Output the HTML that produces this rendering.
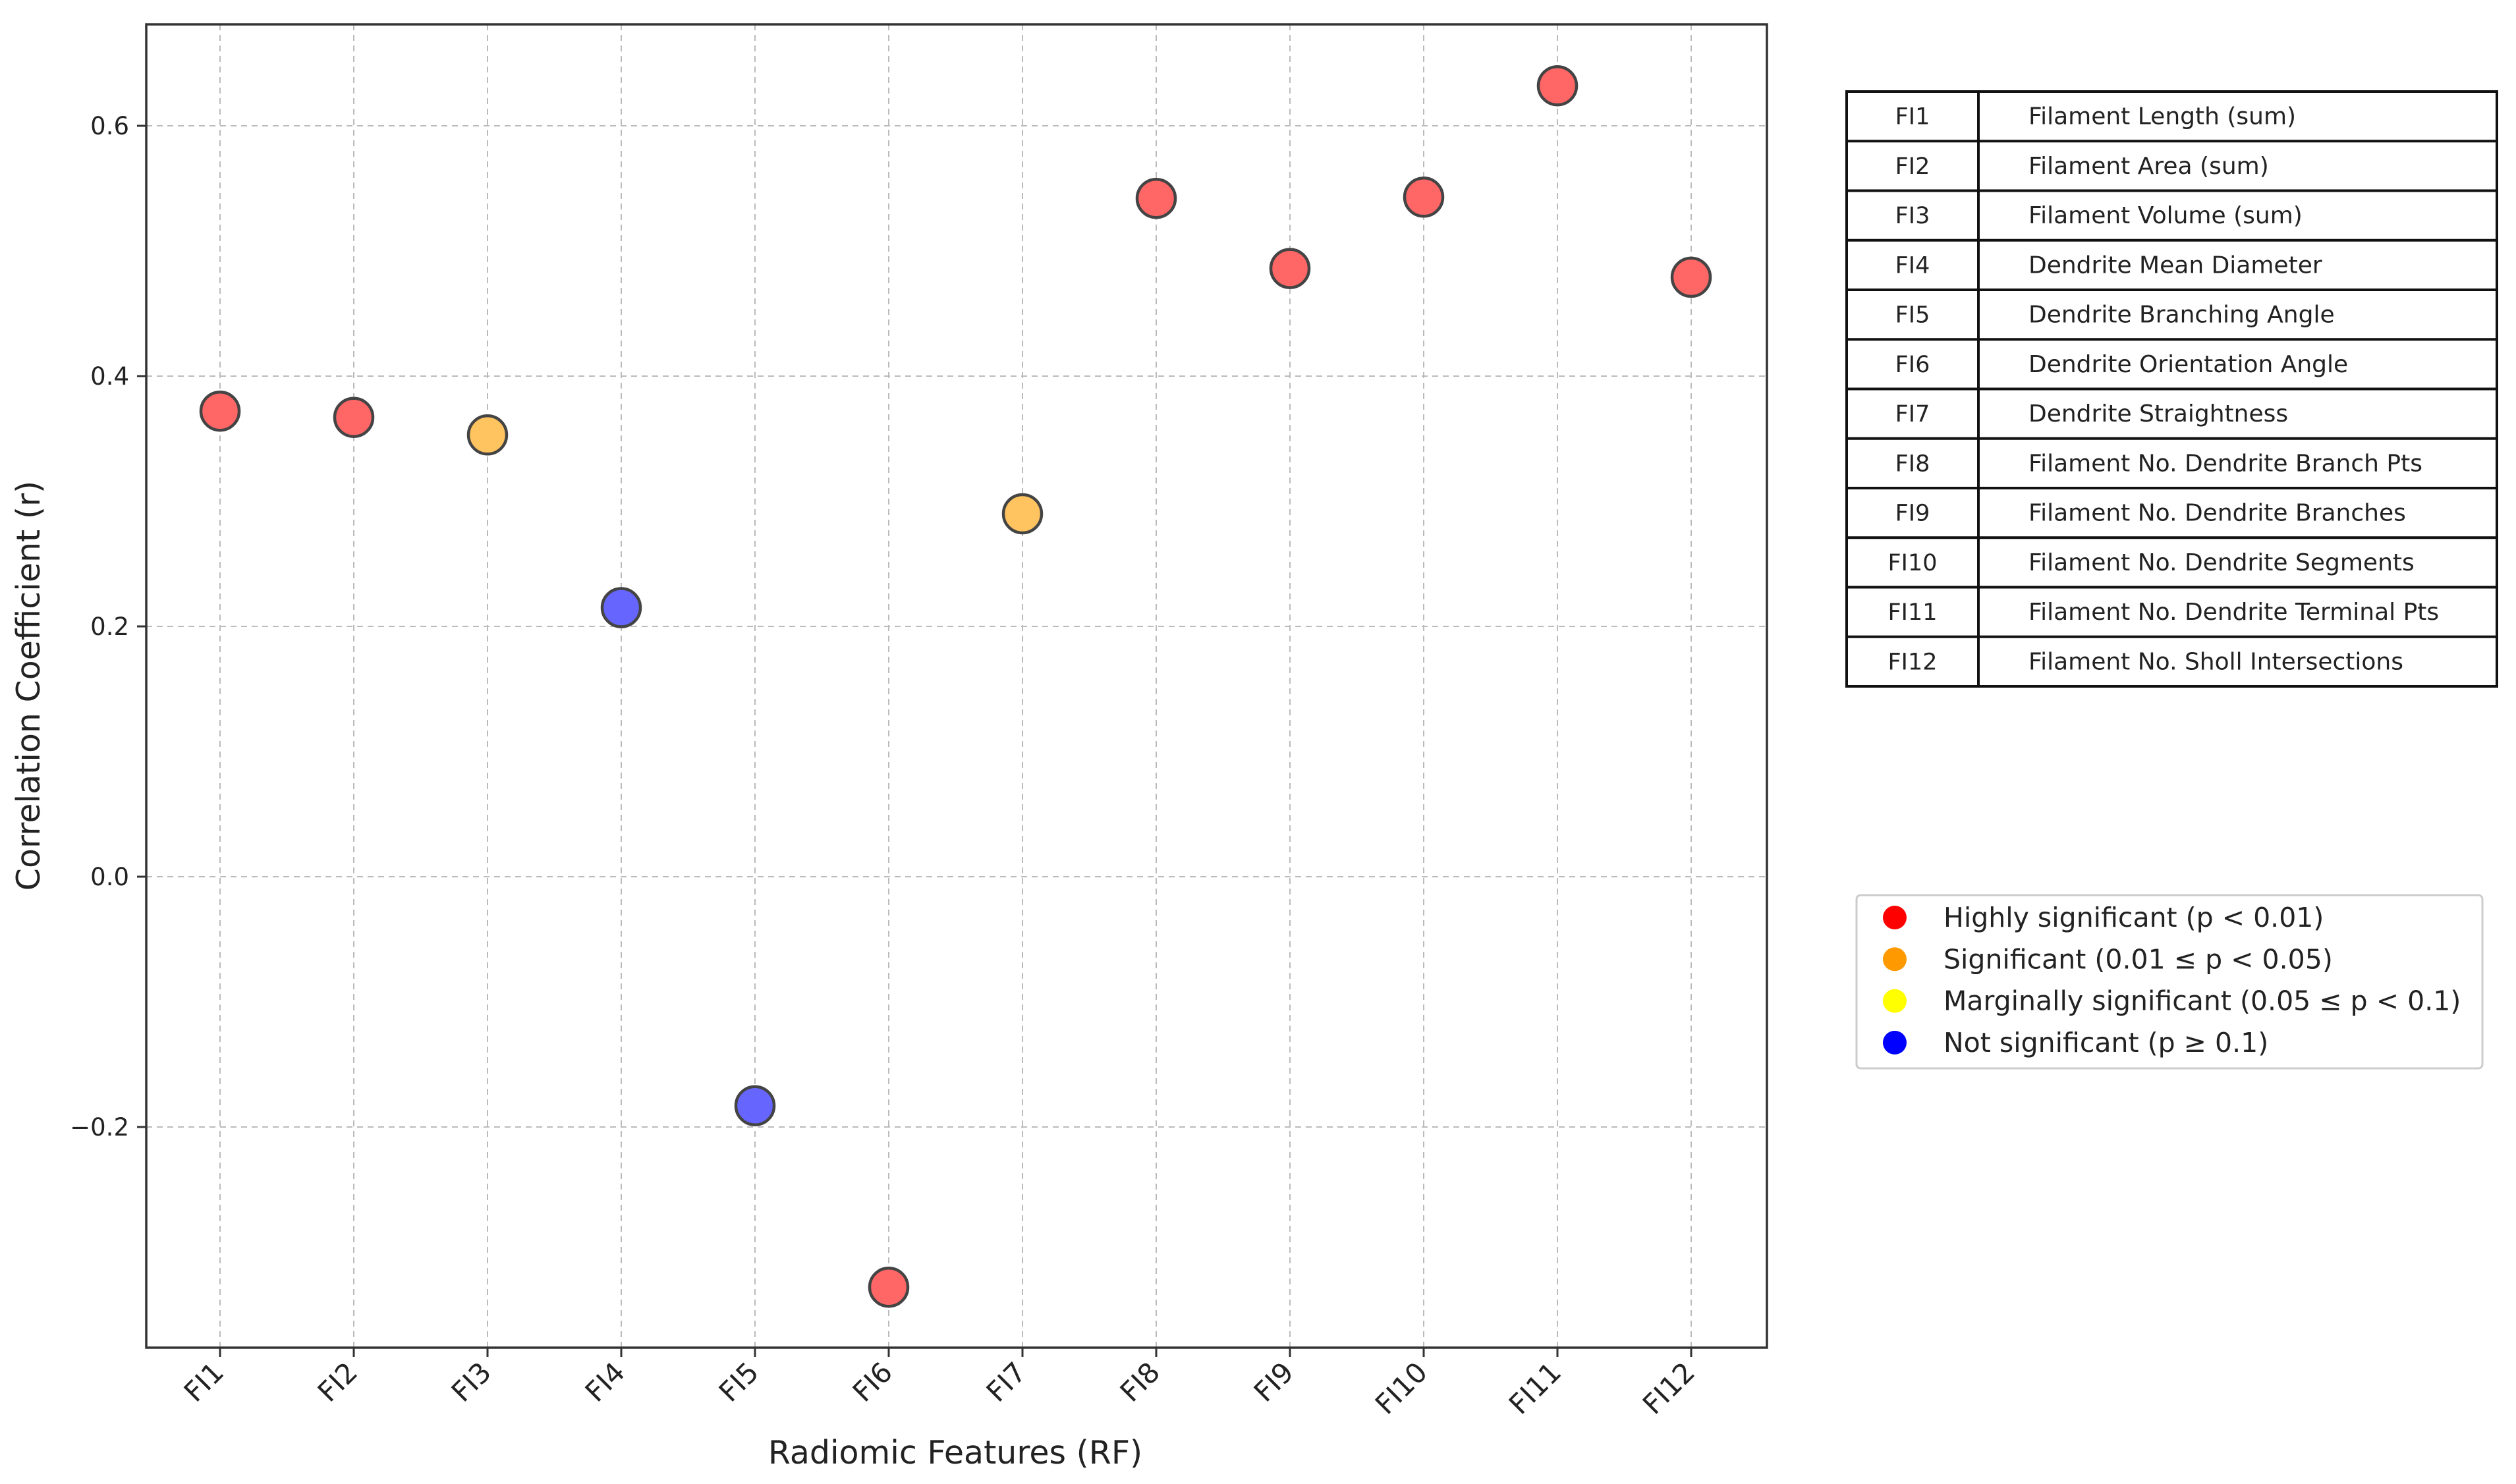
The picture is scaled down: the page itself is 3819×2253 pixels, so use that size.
<!DOCTYPE html>
<html><head><meta charset="utf-8">
<style>
html,body{margin:0;padding:0;background:#fff;}
svg{display:block;font-family:"DejaVu Sans","Liberation Sans",sans-serif;}
</style></head>
<body>
<svg id="chart" width="3819" height="2253" viewBox="0 0 3819 2253" xmlns="http://www.w3.org/2000/svg">
<rect width="3819" height="2253" fill="#fff"/>
<g id="grid"></g>
<g id="points"></g>
<rect x="222" y="37" width="2460" height="2009" fill="none" stroke="#333" stroke-width="3.5"/>
<g id="ticks"></g>
<text transform="translate(60,1041) rotate(-90)" text-anchor="middle" font-size="49" fill="#222">Correlation Coefficient (r)</text>
<text x="1450" y="2222" text-anchor="middle" font-size="49" fill="#222">Radiomic Features (RF)</text>
<g id="table"></g>
<g id="legend"></g>
</svg>
<script>
const categories = ["FI1","FI2","FI3","FI4","FI5","FI6","FI7","FI8","FI9","FI10","FI11","FI12"];
const rValues = [0.372,0.367,0.353,0.215,-0.183,-0.328,0.290,0.542,0.486,0.543,0.632,0.479];
const significance = ["high","high","sig","none","none","high","sig","high","high","high","high","high"];
const yTicks = [0.6,0.4,0.2,0.0,-0.2];
const yTickLabels = ["0.6","0.4","0.2","0.0","\u22120.2"];
const descriptions = ["Filament Length (sum)","Filament Area (sum)","Filament Volume (sum)","Dendrite Mean Diameter","Dendrite Branching Angle","Dendrite Orientation Angle","Dendrite Straightness","Filament No. Dendrite Branch Pts","Filament No. Dendrite Branches","Filament No. Dendrite Segments","Filament No. Dendrite Terminal Pts","Filament No. Sholl Intersections"];
const legendLabels = ["Highly significant (p < 0.01)","Significant (0.01 \u2264 p < 0.05)","Marginally significant (0.05 \u2264 p < 0.1)","Not significant (p \u2265 0.1)"];
const legendColors = ["#ff0000","#ff9900","#ffff00","#0000ff"];

const NS="http://www.w3.org/2000/svg";
const fillMap={high:"#ff6666",sig:"#ffc45f",marg:"#ffff66",none:"#6666ff"};
function xPos(i){return 334+i*203;}
function yPos(v){return 1331-v*1900;}
function mk(tag,attrs,parent){const e=document.createElementNS(NS,tag);for(const k in attrs)e.setAttribute(k,attrs[k]);parent.appendChild(e);return e;}

const grid=document.getElementById('grid'),ticks=document.getElementById('ticks'),pts=document.getElementById('points');
categories.forEach((c,i)=>{
  const x=xPos(i);
  const gl=mk('line',{x1:x,x2:x,y1:37,y2:2046,stroke:"#bbb","stroke-width":2,"stroke-dasharray":"9,7"},grid);
  
  
  const tk=mk('line',{x1:x,x2:x,y1:2046,y2:2060,stroke:"#333","stroke-width":3},ticks);
  
  
  const t=mk('text',{transform:`translate(${x+8},${2086}) rotate(-45)`,"text-anchor":"end","font-size":42,fill:"#222"},ticks);
  t.textContent=c;
  
  
});
yTicks.forEach((v,i)=>{
  const y=yPos(v);
  const gl=mk('line',{x1:222,x2:2682,y1:y,y2:y,stroke:"#bbb","stroke-width":2,"stroke-dasharray":"9,7"},grid);
  
  
  const tk=mk('line',{x1:208,x2:222,y1:y,y2:y,stroke:"#333","stroke-width":3},ticks);
  
  
  const t=mk('text',{x:196,y:y+13,"text-anchor":"end","font-size":37,fill:"#222"},ticks);
  t.textContent=yTickLabels[i];
  
  
});
rValues.forEach((v,i)=>{
  const c=mk('circle',{cx:xPos(i),cy:yPos(v),r:29,fill:fillMap[significance[i]],stroke:"#444","stroke-width":4.5},pts);
  
  
});

const tb=document.getElementById('table');
const tx0=2803,tx1=3003,tx2=3790,ty0=139,rh=75.25;
const fr=mk('rect',{x:tx0,y:ty0,width:tx2-tx0,height:rh*12,fill:"#fff",stroke:"#111","stroke-width":4},tb);


mk('line',{x1:tx1,x2:tx1,y1:ty0,y2:ty0+rh*12,stroke:"#111","stroke-width":4},tb);
categories.forEach((c,i)=>{
  const y=ty0+i*rh;
  if(i>0){const l=mk('line',{x1:tx0,x2:tx2,y1:y,y2:y,stroke:"#111","stroke-width":4},tb);
    
    }
  const a=mk('text',{x:(tx0+tx1)/2,y:y+rh/2+12,"text-anchor":"middle","font-size":35,fill:"#222"},tb);
  a.textContent=c;
  
  
  const b=mk('text',{x:3079,y:y+rh/2+12,"font-size":36,fill:"#222"},tb);
  b.textContent=descriptions[i];
  
  
});

const lg=document.getElementById('legend');
const lb=mk('rect',{x:2818,y:1359,width:950,height:263,rx:6,fill:"#fff",stroke:"#ccc","stroke-width":3},lg);


legendLabels.forEach((s,i)=>{
  const y=1393+i*63.3;
  const d=mk('circle',{cx:2876,cy:y,r:18,fill:legendColors[i]},lg);
  
  
  const t=mk('text',{x:2950,y:y+14,"font-size":41,fill:"#222"},lg);
  t.textContent=s;
  
  
});
</script>
</body></html>
